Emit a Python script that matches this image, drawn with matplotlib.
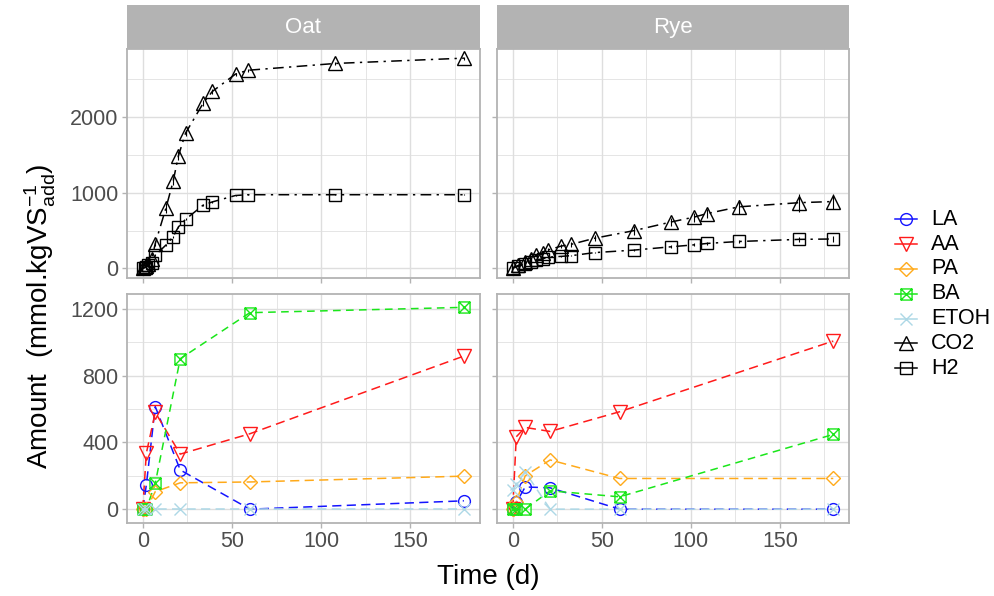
import matplotlib
matplotlib.use('Agg')
import matplotlib.pyplot as plt
from matplotlib.path import Path
from matplotlib.lines import Line2D
from matplotlib.ticker import MultipleLocator

plt.rcParams['font.family'] = ['Liberation Sans', 'DejaVu Sans']
plt.rcParams['mathtext.fontset'] = 'custom'
plt.rcParams['mathtext.rm'] = 'Liberation Sans'
plt.rcParams['mathtext.it'] = 'Liberation Sans:italic'

# ---------------- data ----------------
facets = ['Oat', 'Rye']
series_acid = ['LA', 'AA', 'PA', 'BA', 'ETOH']
series_gas = ['CO2', 'H2']

# acids (bottom row)
t_acid_oat = [0, 2, 7, 21, 60, 180]
LA_oat = [0, 145, 615, 235, 0, 50]
AA_oat = [0, 335, 580, 330, 452, 918]
PA_oat = [0, 0, 105, 158, 163, 198]
BA_oat = [0, 0, 155, 902, 1178, 1210]
ETOH_oat = [0, 0, 0, 0, 0, 0]

t_acid_rye = [0, 2, 7, 21, 60, 180]
LA_rye = [0, 40, 133, 128, 0, 0]
AA_rye = [0, 434, 490, 466, 584, 1008]
PA_rye = [0, 44, 200, 295, 184, 184]
BA_rye = [0, 0, 0, 110, 74, 448]
ETOH_rye = [113, 150, 223, 0, 0, 0]

# gases (top row)
t_gas_oat = [0, 1, 2, 3, 5, 7, 13, 17, 20, 24, 34, 39, 52, 59, 108, 180]
CO2_oat = [0, 15, 30, 60, 120, 330, 800, 1150, 1490, 1790, 2190, 2340, 2570, 2620, 2710, 2780]
H2_oat = [0, 10, 20, 40, 75, 175, 310, 420, 550, 650, 840, 880, 965, 975, 975, 975]
CO2_oat_err = [0, 0, 0, 0, 0, 30, 60, 50, 60, 40, 40, 30, 20, 20, 20, 20]
H2_oat_err = [0, 0, 0, 0, 0, 10, 15, 15, 15, 15, 15, 10, 10, 10, 10, 10]

t_gas_rye = [0, 3, 7, 10, 13, 17, 20, 27, 33, 46, 68, 89, 102, 109, 127, 161, 180]
CO2_rye = [10, 40, 80, 120, 175, 210, 245, 295, 320, 400, 500, 615, 680, 725, 815, 870, 885]
H2_rye = [5, 30, 60, 85, 110, 130, 150, 160, 170, 210, 243, 287, 313, 331, 357, 385, 390]
CO2_rye_err = [0, 5, 10, 10, 15, 20, 20, 30, 30, 40, 60, 50, 60, 60, 90, 120, 100]
H2_rye_err = [0, 5, 5, 5, 10, 10, 10, 10, 10, 10, 15, 20, 20, 25, 25, 35, 35]

acid_data = {
    'Oat': (t_acid_oat, {'LA': LA_oat, 'AA': AA_oat, 'PA': PA_oat, 'BA': BA_oat, 'ETOH': ETOH_oat}),
    'Rye': (t_acid_rye, {'LA': LA_rye, 'AA': AA_rye, 'PA': PA_rye, 'BA': BA_rye, 'ETOH': ETOH_rye}),
}
gas_data = {
    'Oat': (t_gas_oat, {'CO2': (CO2_oat, CO2_oat_err), 'H2': (H2_oat, H2_oat_err)}),
    'Rye': (t_gas_rye, {'CO2': (CO2_rye, CO2_rye_err), 'H2': (H2_rye, H2_rye_err)}),
}

# ---------------- styles ----------------
def boxx():
    verts = [(-1, -1), (1, -1), (1, 1), (-1, 1), (-1, -1),
             (-1, -1), (1, 1), (-1, 1), (1, -1)]
    codes = [Path.MOVETO, Path.LINETO, Path.LINETO, Path.LINETO, Path.CLOSEPOLY,
             Path.MOVETO, Path.LINETO, Path.MOVETO, Path.LINETO]
    return Path(verts, codes)

DASH = (6, 3.5)
DOTDASH = (7, 3.5, 1.5, 3.5)
style = {
    'LA':   dict(color='#1414FF', marker='o', ms=8.5, dashes=DASH),
    'AA':   dict(color='#FF1A1A', marker='v', ms=10, dashes=DASH),
    'PA':   dict(color='#FFAA1A', marker='D', ms=7, dashes=DASH),
    'BA':   dict(color='#1AE61A', marker=boxx(), ms=8, dashes=(5, 3.5)),
    'ETOH': dict(color='#ADD8E6', marker='x', ms=9, dashes=DASH),
    'CO2':  dict(color='black', marker='^', ms=10, dashes=DOTDASH),
    'H2':   dict(color='black', marker='s', ms=8, dashes=DOTDASH),
}

W, H = 995, 596
fig = plt.figure(figsize=(W / 100, H / 100), dpi=100)

def rect(x0, y0, x1, y1):
    return [x0 / W, 1 - y1 / H, (x1 - x0) / W, (y1 - y0) / H]

col_px = {'Oat': (126.7, 480.0), 'Rye': (496.7, 849.3)}
top_px = (49.3, 277.5)
bot_px = (294.0, 522.5)
strip_px = (5.0, 49.3)

GRID = '#DEDEDE'
BORDER = '#B3B3B3'
TICKC = '#4D4D4D'
FS = 15.5

def style_ax(ax, ymaj, ymin, ylim, show_x, show_y):
    ax.set_xlim(-9, 189)
    ax.set_ylim(*ylim)
    ax.xaxis.set_major_locator(MultipleLocator(50))
    ax.xaxis.set_minor_locator(MultipleLocator(25))
    ax.yaxis.set_major_locator(MultipleLocator(ymaj))
    ax.yaxis.set_minor_locator(MultipleLocator(ymin))
    ax.grid(which='major', color=GRID, lw=1.0)
    ax.grid(which='minor', color=GRID, lw=0.55)
    ax.set_axisbelow(True)
    for s in ax.spines.values():
        s.set_color(BORDER)
        s.set_linewidth(1.3)
    ax.tick_params(which='major', color=BORDER, length=3.5, width=1.0,
                   labelcolor=TICKC, labelsize=FS, pad=2.5)
    ax.tick_params(which='minor', length=0)
    if not show_x:
        ax.tick_params(axis='x', labelbottom=False)
    if not show_y:
        ax.tick_params(axis='y', labelleft=False)

for ci, f in enumerate(facets):
    x0, x1 = col_px[f]
    # strip
    sax = fig.add_axes(rect(x0, strip_px[0], x1, strip_px[1]))
    sax.set_facecolor(BORDER)
    sax.set_xticks([]); sax.set_yticks([])
    for s in sax.spines.values():
        s.set_visible(False)
    sax.text(0.5, 0.5, f, color='white', fontsize=16, ha='center', va='center',
             transform=sax.transAxes)

    # gas panel
    ax = fig.add_axes(rect(x0, top_px[0], x1, top_px[1]))
    style_ax(ax, 1000, 500, (-119, 2897), False, ci == 0)
    t, d = gas_data[f]
    for s in series_gas:
        y, e = d[s]
        st = style[s]
        ax.errorbar(t, y, yerr=e, fmt='none', ecolor='black', elinewidth=0.8, capsize=0, zorder=3)
        ax.plot(t, y, color=st['color'], lw=1.1, dashes=st['dashes'], zorder=2)
        ax.plot(t, y, ls='none', marker=st['marker'], ms=st['ms'], mfc='none',
                mec=st['color'], mew=1.0, zorder=4)

    # acid panel
    ax = fig.add_axes(rect(x0, bot_px[0], x1, bot_px[1]))
    style_ax(ax, 400, 200, (-80, 1290), True, ci == 0)
    t, d = acid_data[f]
    for s in series_acid:
        st = style[s]
        ax.plot(t, d[s], color=st['color'], lw=1.1, dashes=st['dashes'], zorder=2)
    for s in series_acid:
        st = style[s]
        ax.plot(t, d[s], ls='none', marker=st['marker'], ms=st['ms'], mfc='none',
                mec=st['color'], mew=1.0, zorder=4)

# axis titles
fig.text(488 / W, 1 - 577 / H, 'Time (d)', fontsize=20, ha='center', va='center')
fig.text(40 / W, 1 - 316 / H, r'Amount  (mmol.kgVS$_{\rm add}^{-1}$)', fontsize=20,
         ha='center', va='center', rotation=90)

# legend (drawn manually)
legend_order = ['LA', 'AA', 'PA', 'BA', 'ETOH', 'CO2', 'H2']
legend_y = [219.3, 244.2, 269.0, 293.8, 318.6, 343.4, 368.3]
for name, yp in zip(legend_order, legend_y):
    st = style[name]
    yy = 1 - yp / H
    fig.add_artist(Line2D([895 / W, 917 / W], [yy, yy], color=st['color'], lw=1.1,
                          transform=fig.transFigure))
    fig.add_artist(Line2D([906 / W], [yy], ls='none', marker=st['marker'], ms=st['ms'],
                          mfc='none', mec=st['color'], mew=1.0, transform=fig.transFigure))
    fig.text(931 / W, yy, name, fontsize=FS, ha='left', va='center')

fig.savefig('out.png', dpi=100)
